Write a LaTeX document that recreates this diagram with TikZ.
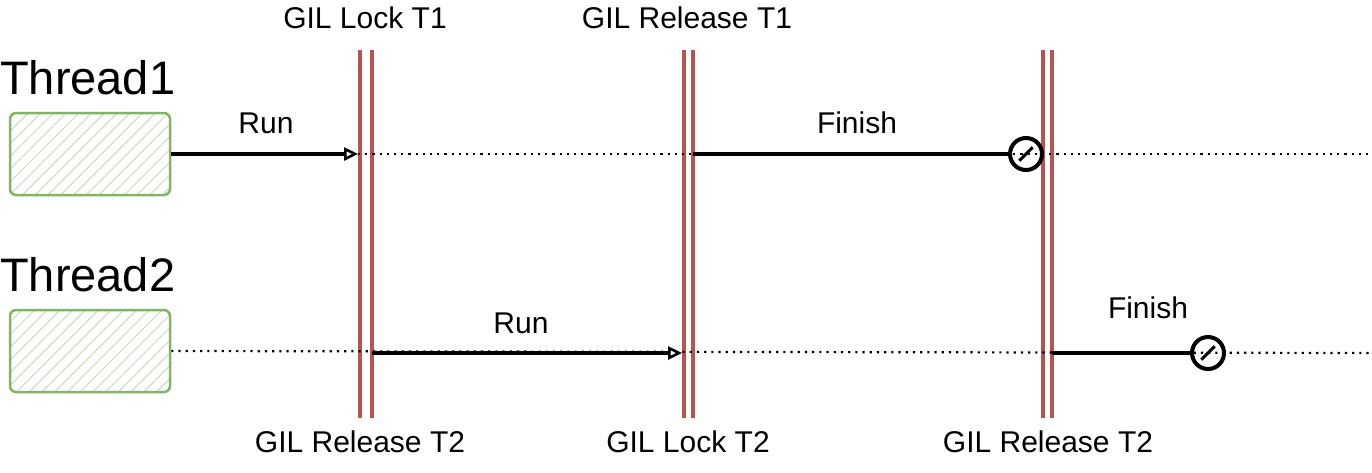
\documentclass[tikz,border=0pt]{standalone}
\usepackage{fontspec}
\setmainfont{Liberation Sans}
\usetikzlibrary{patterns.meta,arrows.meta}
\definecolor{gil}{HTML}{B85450}
\definecolor{grn}{HTML}{82B366}
\begin{document}
\begin{tikzpicture}[x=1pt,y=-1pt,
 thr/.style={draw=grn,line width=2.5pt,rounded corners=6pt,pattern={Lines[angle=45,distance=9pt,line width=1pt]},pattern color=grn!45,minimum width=160pt,minimum height=82pt},
 bar/.style={draw=gil,line width=4.5pt},
 lbl/.style={font=\fontsize{30}{34}\selectfont,inner sep=0pt},
 big/.style={font=\fontsize{47}{52}\selectfont,inner sep=0pt,anchor=west},
 run/.style={line width=4pt,-{Triangle[open,length=14pt,width=13pt,line width=2.5pt]}},
 fin/.style={line width=4pt},
 dot/.style={line width=2.2pt,dash pattern=on 2.2pt off 5pt},
 stop/.style={circle,draw,line width=4pt,minimum size=32pt,inner sep=0pt}]
\useasboundingbox (0,0) rectangle (1372,472);
\node[thr] (b1) at (90,154) {};
\node[thr] (b2) at (90,351) {};
\node[big] (t1) at (0,78) {Thread1};
\node[big] (t2) at (0,275) {Thread2};
% bars
\foreach \n/\x in {a/360,b/372,c/684,d/693,e/1043,f/1052}{
 \coordinate (\n top) at (\x,50); \coordinate (\n bot) at (\x,418);
 \draw[bar] (\n top) -- (\n bot);}
\node[lbl] (l1) at (365,18) {GIL Lock T1};
\node[lbl] (l2) at (687,18) {GIL Release T1};
\node[lbl] (l3) at (360,442) {GIL Release T2};
\node[lbl] (l4) at (688,442) {GIL Lock T2};
\node[lbl] (l5) at (1048,442) {GIL Release T2};
% coordinates
\coordinate (r1a) at (358,154); \coordinate (r1b) at (693,154); \coordinate (r1e) at (1372,154);
\coordinate (r2a) at (372,353); \coordinate (r2b) at (682,353); \coordinate (r2c) at (1052,353); \coordinate (r2e) at (1372,353);
\draw[dot] (r1a) -- (r1e);
\draw[dot] (b2.east) -- (r2e);
\node[stop] (s1) at (1026,154) {};
\node[stop] (s2) at (1208,353) {};
\draw[line width=3pt] (s1.south west) ++(6,-6) -- ([shift={(-6,6)}]s1.north east);
\draw[line width=3pt] (s2.south west) ++(6,-6) -- ([shift={(-6,6)}]s2.north east);
\draw[run] (b1.east) -- (r1a);
\draw[run] (r2a) -- (r2b);
\draw[fin] (r1b) -- (s1);
\draw[fin] (r2c) -- (s2);
\node[lbl] (k1) at (266,123) {Run};
\node[lbl] (k2) at (857,123) {Finish};
\node[lbl] (k3) at (521,323) {Run};
\node[lbl] (k4) at (1148,308) {Finish};
\end{tikzpicture}
\end{document}
